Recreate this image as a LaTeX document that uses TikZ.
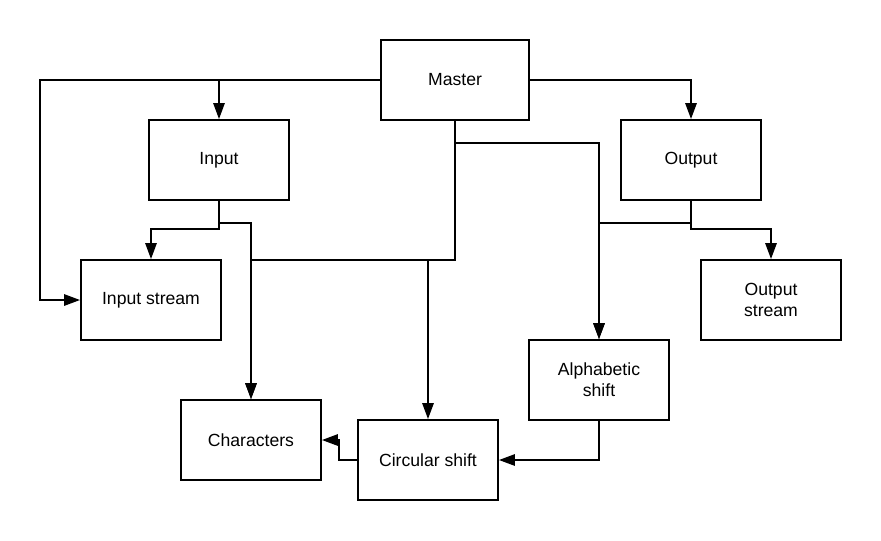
\documentclass[tikz,border=0pt]{standalone}
\usepackage{fontspec}
\setmainfont{Liberation Sans}
\usetikzlibrary{arrows.meta}
\begin{document}
\begin{tikzpicture}[
			x=0.75pt, y=-0.75pt,
			module/.style={draw, line width=1.4pt, minimum width=105pt, minimum height=60pt,
				align=center, font=\fontsize{13.2}{15.5}\selectfont},
			link/.style={line width=1.4pt, -{Triangle[length=12pt,width=8.5pt]}}
		]
		\useasboundingbox (0,0) rectangle (881,540);
		\node[module, minimum width=111pt] (master) at (455,80) {Master};
		\node[module] (input) at (219,160) {Input};
		\node[module] (output) at (691,160) {Output};
		\node[module] (instream) at (151,300) {Input stream};
		\node[module] (outstream) at (771,300) {Output\\stream};
		\node[module] (alpha) at (599,380) {Alphabetic\\shift};
		\node[module] (chars) at (251,440) {Characters};
		\node[module] (circ) at (428,460) {Circular shift};
		\coordinate (left) at (40,300);
		\coordinate (hub) at (455,260);
		\coordinate (branch) at (455,143);
		\coordinate (injoin) at (251,223);
		\coordinate (inturn) at (151,229);
		\coordinate (outjoin) at (599,223);
		\coordinate (outturn) at (771,229);
		\coordinate (circturn) at (339,460);
		\draw[link] (master.west) -| (input.north);
		\draw[link] (master.west) -| (left) -- (instream.west);
		\draw[link] (master.east) -| (output.north);
		\draw[link] (master.south) -- (hub) -| (circ.north);
		\draw[link] (hub) -| (chars.north);
		\draw[link] (branch) -| (alpha.north);
		\draw[link] (input.south) |- (injoin) -- (chars.north);
		\draw[link] (input.south) |- (inturn) -- (instream.north);
		\draw[link] (output.south) |- (outjoin) -- (alpha.north);
		\draw[link] (output.south) |- (outturn) -- (outstream.north);
		\draw[link] (alpha.south) |- (circ.east);
		\draw[link] (circ.west) -- (circturn) |- (chars.east);
	\end{tikzpicture}
\end{document}
